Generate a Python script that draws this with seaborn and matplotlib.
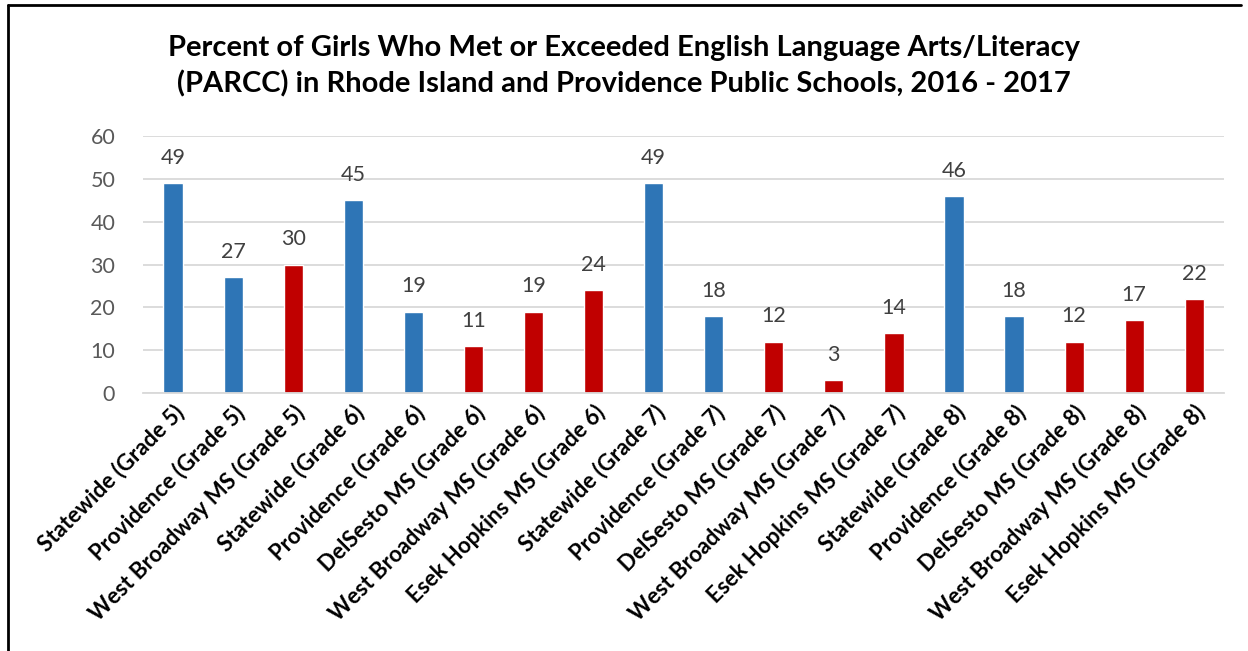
import pandas as pd
import matplotlib
matplotlib.use("Agg")
import matplotlib.pyplot as plt
import seaborn as sns

categorias = ['Statewide (Grade 5)', 'Providence (Grade 5)', 'West Broadway MS (Grade 5)',
              'Statewide (Grade 6)', 'Providence (Grade 6)', 'DelSesto MS (Grade 6)',
              'West Broadway MS (Grade 6)', 'Esek Hopkins MS (Grade 6)',
              'Statewide (Grade 7)', 'Providence (Grade 7)', 'DelSesto MS (Grade 7)',
              'West Broadway MS (Grade 7)', 'Esek Hopkins MS (Grade 7)',
              'Statewide (Grade 8)', 'Providence (Grade 8)', 'DelSesto MS (Grade 8)',
              'West Broadway MS (Grade 8)', 'Esek Hopkins MS (Grade 8)']
valores = [49, 27, 30, 45, 19, 11, 19, 24, 49, 18, 12, 3, 14, 46, 18, 12, 17, 22]
tipo = ['state', 'state', 'school', 'state', 'state', 'school', 'school', 'school',
        'state', 'state', 'school', 'school', 'school', 'state', 'state', 'school', 'school', 'school']
colores = {'state': '#2E75B6', 'school': '#C00000'}

df = pd.DataFrame({'categoria': categorias, 'valor': valores, 'tipo': tipo})

sns.set_theme(style="white")
plt.rcParams['font.family'] = ['Lato', 'DejaVu Sans']

fig = plt.figure(figsize=(12.48, 6.51), dpi=100)
ax = fig.add_axes([0.1146, 0.3963, 0.981 - 0.1146, 0.791 - 0.3963])

sns.barplot(data=df, x='categoria', y='valor', hue='tipo', palette=colores,
            dodge=False, width=0.32, legend=False, ax=ax, saturation=1)

ax.set_ylim(0, 60)
ax.set_yticks(range(0, 61, 10))
ax.yaxis.grid(True, color='#D9D9D9', linewidth=1.3)
ax.set_axisbelow(True)
for s in ['top', 'right', 'left']:
    ax.spines[s].set_visible(False)
ax.spines['bottom'].set_color('#D9D9D9')
ax.spines['bottom'].set_linewidth(1.3)
ax.set_xlim(-0.5, len(categorias) - 0.5)
ax.set_xlabel('')
ax.set_ylabel('')
ax.tick_params(axis='y', length=0, labelsize=15.5, labelcolor='#595959', pad=20)
ax.tick_params(axis='x', length=0, pad=6)
ax.set_xticks(range(len(categorias)))
ax.set_xticklabels(categorias, rotation=45, ha='right', rotation_mode='anchor',
                   fontsize=16, fontweight='bold', color='black')

for cont in ax.containers:
    ax.bar_label(cont, fmt='%d', padding=11, fontsize=15.5, color='#404040')

fig.text(0.5, 0.899, 'Percent of Girls Who Met or Exceeded English Language Arts/Literacy\n'
         '(PARCC) in Rhode Island and Providence Public Schools, 2016 - 2017',
         ha='center', va='center', fontsize=21, fontweight='bold', color='black',
         linespacing=1.42)

# marco
fig.add_artist(plt.Line2D([0.0064, 0.0064], [0, 0.992], color='black', lw=2, transform=fig.transFigure))
fig.add_artist(plt.Line2D([0.0064, 0.994], [0.992, 0.992], color='black', lw=2, transform=fig.transFigure))

fig.savefig('out.png', dpi=100)
